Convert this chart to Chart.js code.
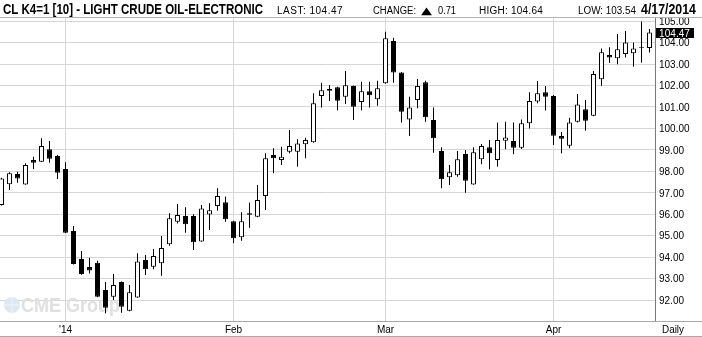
<!DOCTYPE html>
<html><head><meta charset="utf-8">
<script src="https://cdn.jsdelivr.net/npm/chart.js@4.4.1/dist/chart.umd.min.js"></script>
<style>html,body{margin:0;padding:0;background:#fff;overflow:hidden}#wrap{position:relative;width:702px;height:337px}</style>
</head><body><div id="wrap"><canvas id="c"></canvas></div>
<script>
// ---- data ----
const dates = [
 "2013-12-19","2013-12-20","2013-12-23","2013-12-24","2013-12-26","2013-12-27","2013-12-30","2013-12-31",
 "2014-01-02","2014-01-03","2014-01-06","2014-01-07","2014-01-08","2014-01-09","2014-01-10",
 "2014-01-13","2014-01-14","2014-01-15","2014-01-16","2014-01-17",
 "2014-01-21","2014-01-22","2014-01-23","2014-01-24",
 "2014-01-27","2014-01-28","2014-01-29","2014-01-30","2014-01-31",
 "2014-02-03","2014-02-04","2014-02-05","2014-02-06","2014-02-07",
 "2014-02-10","2014-02-11","2014-02-12","2014-02-13","2014-02-14",
 "2014-02-18","2014-02-19","2014-02-20","2014-02-21",
 "2014-02-24","2014-02-25","2014-02-26","2014-02-27","2014-02-28",
 "2014-03-03","2014-03-04","2014-03-05","2014-03-06","2014-03-07",
 "2014-03-10","2014-03-11","2014-03-12","2014-03-13","2014-03-14",
 "2014-03-17","2014-03-18","2014-03-19","2014-03-20","2014-03-21",
 "2014-03-24","2014-03-25","2014-03-26","2014-03-27","2014-03-28","2014-03-31",
 "2014-04-01","2014-04-02","2014-04-03","2014-04-04",
 "2014-04-07","2014-04-08","2014-04-09","2014-04-10","2014-04-11",
 "2014-04-14","2014-04-15","2014-04-16","2014-04-17"
];
const open = [
 96.43,97.40,97.87,97.39,98.53,98.45,99.03,98.71,
 98.11,95.22,93.91,93.54,93.74,92.47,92.15,92.84,91.50,92.12,93.86,93.55,
 93.71,94.60,95.65,95.92,95.92,94.73,95.99,96.38,96.56,
 95.67,94.92,96.04,95.88,96.85,98.76,98.53,98.91,98.91,99.26,99.35,101.51,101.84,101.92,101.48,101.98,101.23,101.73,101.36,
 102.10,104.07,102.61,100.42,101.32,102.15,100.39,98.95,97.72,97.82,98.81,97.39,98.56,99.12,98.53,99.43,99.41,99.10,100.24,101.25,101.68,
 101.51,99.65,99.19,100.31,100.89,100.59,102.29,103.42,103.27,103.47,103.50,103.80,103.75
];
const high = [
 97.70,97.95,97.98,98.37,98.68,99.54,99.41,98.76,
 98.42,95.45,94.28,93.97,93.83,92.84,93.21,92.86,92.70,94.18,94.10,94.38,
 94.98,96.04,96.48,96.32,96.00,96.43,96.51,97.21,96.82,
 95.69,96.09,96.55,97.36,98.84,99.07,99.15,99.93,99.49,99.56,101.64,102.13,102.02,101.94,102.68,102.00,102.18,102.18,102.22,
 104.51,104.23,102.63,101.48,102.30,102.22,100.98,99.12,98.29,98.95,98.99,99.12,99.27,99.46,100.28,100.31,100.28,100.42,101.68,102.21,101.98,
 101.56,99.83,100.50,101.60,101.32,102.68,103.73,103.78,104.40,104.54,104.01,104.98,104.64
];
const low = [
 96.40,97.13,97.47,97.37,98.11,98.43,98.40,97.64,
 95.12,93.66,93.18,93.24,92.13,91.38,92.00,91.41,91.48,92.10,93.17,93.43,
 93.13,94.53,95.57,95.14,94.33,94.71,95.26,96.16,95.65,
 94.64,94.76,95.37,95.86,96.20,97.91,98.29,98.84,98.21,98.61,99.33,100.98,101.28,100.83,101.14,100.39,100.83,100.98,101.06,
 102.08,102.13,100.28,99.65,100.94,100.31,98.87,97.21,97.36,97.75,97.00,97.37,98.33,98.09,98.21,99.03,98.79,99.04,100.00,101.17,100.83,
 99.23,98.84,99.07,100.27,99.89,100.57,101.99,103.06,102.99,103.30,102.88,103.06,103.54
];
const close = [
 97.67,97.91,97.66,98.29,98.40,99.18,98.59,97.93,
 95.14,93.68,93.21,93.37,92.15,91.64,92.70,91.69,92.36,93.79,93.43,94.05,
 94.42,95.81,95.96,95.53,94.69,96.27,96.18,96.85,95.76,
 94.88,95.67,95.98,96.66,98.61,98.61,98.68,99.18,99.30,99.46,101.17,101.78,101.76,101.29,102.01,101.01,101.73,101.54,101.87,
 104.20,102.61,100.78,100.98,101.98,100.52,99.54,97.63,97.95,98.56,97.56,98.89,99.18,98.84,99.46,99.58,99.10,100.24,101.28,101.64,101.48,
 99.66,99.52,100.28,101.12,100.36,102.54,103.55,103.31,103.69,104.01,103.73,103.76,104.47
];
const yTicks = [92,93,94,95,96,97,98,99,100,101,102,103,104,105];
const monthStarts = ["2014-01-02","2014-02-03","2014-03-03","2014-04-01"];
const monthLabels = ["'14","Feb","Mar","Apr"];
const titleText = "CL K4=1 [10] - LIGHT CRUDE OIL-ELECTRONIC";
const lastText = "LAST: 104.47";
const changeLabel = "CHANGE:";
const changeArrow = "\u25B2";
const changeValue = "0.71";
const highText = "HIGH: 104.64";
const lowText = "LOW: 103.54";
const dateText = "4/17/2014";
const lastPrice = 104.47;

// ---- build ----
const FONT = '"Liberation Sans", Arial, sans-serif';
const monthIdx = monthStarts.map(d => dates.indexOf(d));
const idx = dates.map((d, i) => i);
const bodies = idx.map(i => ({x: i, y: [open[i], close[i]]}));
const wicks = idx.map(i => ({x: i, y: [low[i], high[i]]}));
const bodyFill = idx.map(i => close[i] >= open[i] ? '#ffffff' : '#000000');

function fitText(ctx, text, x, y, font, width, color) {
  ctx.save();
  ctx.font = font; ctx.fillStyle = color;
  ctx.textBaseline = 'alphabetic'; ctx.textAlign = 'left';
  const w = ctx.measureText(text).width;
  if (w < width && text.length > 1 && 'letterSpacing' in ctx) {
    ctx.letterSpacing = ((width - w) / text.length).toFixed(2) + 'px';
    ctx.fillText(text, x, y);
  } else {
    ctx.translate(x, y); ctx.scale(width / w, 1); ctx.fillText(text, 0, 0);
  }
  ctx.restore();
}
function hline(ctx, x1, x2, y, c) { ctx.strokeStyle = c; ctx.beginPath(); ctx.moveTo(x1, y); ctx.lineTo(x2, y); ctx.stroke(); }
function vline(ctx, x, y1, y2, c) { ctx.strokeStyle = c; ctx.beginPath(); ctx.moveTo(x, y1); ctx.lineTo(x, y2); ctx.stroke(); }

const watermark = {
  id: 'watermark',
  beforeDatasetsDraw(chart) {
    const ctx = chart.ctx;
    ctx.save();
    ctx.fillStyle = '#dde8f1';
    ctx.beginPath(); ctx.arc(12, 305, 8, 0, Math.PI * 2); ctx.fill();
    ctx.strokeStyle = '#f0f5f9'; ctx.lineWidth = 1;
    ctx.beginPath(); ctx.moveTo(4, 305); ctx.lineTo(20, 305); ctx.moveTo(12, 297); ctx.lineTo(12, 313); ctx.stroke();
    ctx.restore();
    fitText(ctx, 'CME Group', 21, 312, 'bold 20px ' + FONT, 99, '#e0e0e0');
  }
};
const frame = {
  id: 'frame',
  afterDraw(chart) {
    const ctx = chart.ctx, a = chart.chartArea, W = chart.width;
    ctx.save(); ctx.lineWidth = 1;
    hline(ctx, 0, W, a.top - 0.5, '#b4b4b4');
    hline(ctx, 0, W, a.bottom + 0.5, '#a8a8a8');
    hline(ctx, 0, W, chart.height - 0.5, '#a8a8a8');
    vline(ctx, a.right + 0.5, a.top, a.bottom, '#7a7a7a');
    ctx.restore();
    // header
    fitText(ctx, titleText, 3, 14, 'bold 15px ' + FONT, 260, '#000');
    fitText(ctx, lastText, 277, 14, '10px ' + FONT, 66, '#000');
    fitText(ctx, changeLabel, 373, 14, '10px ' + FONT, 43, '#000');
    fitText(ctx, changeArrow, 421, 14, '10px "DejaVu Sans"', 11, '#000');
    fitText(ctx, changeValue, 438, 14, '10px ' + FONT, 18, '#000');
    fitText(ctx, highText, 479, 14, '10px ' + FONT, 64, '#000');
    fitText(ctx, lowText, 578, 14, '10px ' + FONT, 58, '#000');
    fitText(ctx, dateText, 641, 14, 'bold 15px ' + FONT, 55, '#000');
    fitText(ctx, 'Daily', 662, 333, '10px ' + FONT, 22, '#000');
    // last price tag
    const y = chart.scales.y.getPixelForValue(lastPrice);
    ctx.save();
    ctx.fillStyle = '#000';
    ctx.fillRect(a.right + 1, Math.round(y) - 5, 38, 10);
    ctx.restore();
    fitText(ctx, lastPrice.toFixed(2), a.right + 4, Math.round(y) + 4, '10px ' + FONT, 31, '#fff');
  }
};

new Chart(document.getElementById('c'), {
  type: 'bar',
  data: {
    labels: dates,
    datasets: [
      { label: 'body', data: bodies, grouped: false, barThickness: 5, borderWidth: 1,
        borderColor: '#000', backgroundColor: bodyFill, borderSkipped: false, inflateAmount: 0, order: 0 },
      { label: 'range', data: wicks, grouped: false, barThickness: 1, borderWidth: 0,
        backgroundColor: '#000', borderSkipped: false, inflateAmount: 0, order: 1 }
    ]
  },
  options: {
    responsive: true, maintainAspectRatio: false, devicePixelRatio: 1, animation: false,
    layout: { padding: { top: 18, left: 0, right: 0, bottom: 0 } },
    plugins: { legend: { display: false }, tooltip: { enabled: false }, title: { display: false } },
    scales: {
      x: {
        type: 'linear', offset: false, min: -0.1875, max: 81.6875,
        grid: { color: '#d6d6d6', offset: false, drawTicks: false },
        border: { display: false },
        afterBuildTicks(s) { s.ticks = monthIdx.map(v => ({ value: v })); },
        afterFit(s) { s.height = 16; },
        ticks: { autoSkip: false, maxRotation: 0, padding: 3, color: '#000',
          font: { family: FONT, size: 10 },
          callback(v) { const j = monthIdx.indexOf(v); return j >= 0 ? monthLabels[j] : ''; } }
      },
      y: {
        position: 'right', min: 91.021, max: 105.147, beginAtZero: false,
        grid: { color: '#d6d6d6', drawTicks: false },
        border: { display: false },
        afterBuildTicks(s) { s.ticks = yTicks.map(v => ({ value: v })); },
        afterFit(s) { s.width = 47; },
        ticks: { padding: 4, labelOffset: 1, color: '#000', font: { family: FONT, size: 10 },
          callback(v) { return Number(v).toFixed(2); } }
      }
    }
  },
  plugins: [watermark, frame]
});
</script></body></html>
